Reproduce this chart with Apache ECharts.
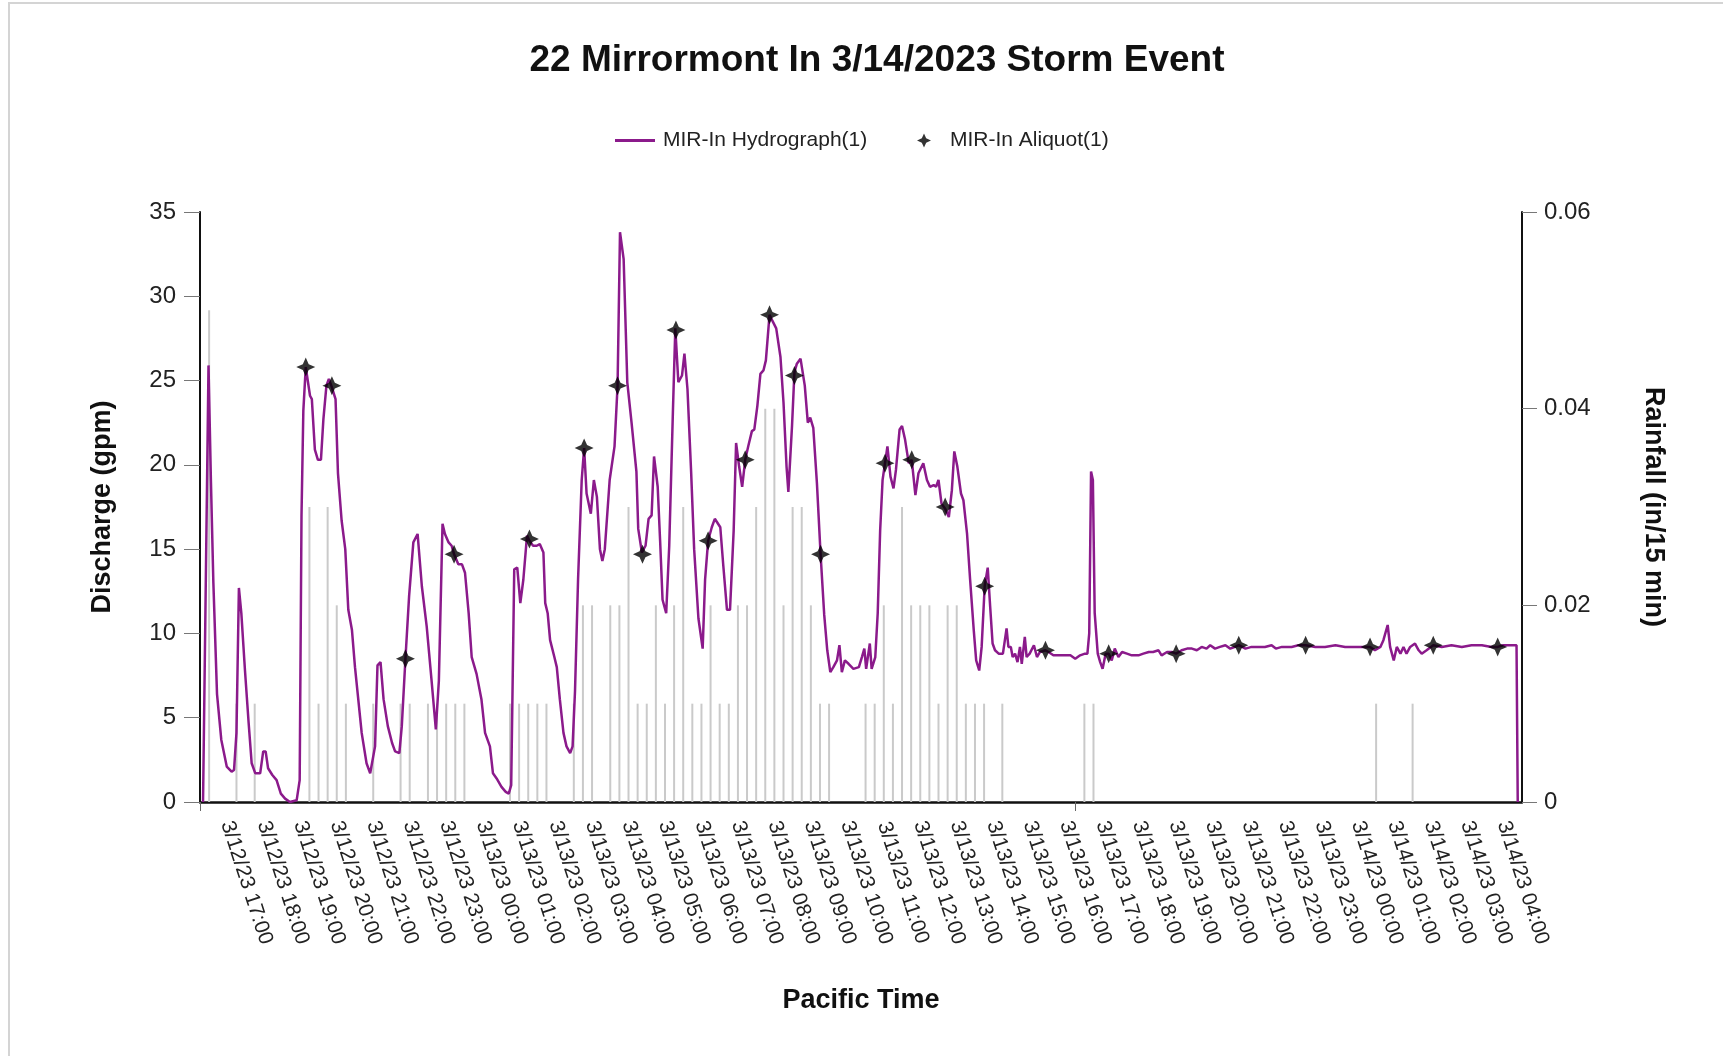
<!DOCTYPE html>
<html><head><meta charset="utf-8">
<script src="https://cdn.jsdelivr.net/npm/echarts@6/dist/echarts.min.js"></script>
<style>html,body{margin:0;padding:0;background:#fff}#c{width:1723px;height:1056px}</style>
</head><body><div id="c"></div>
<script>
// x values are minutes after 3/12/23 16:00 (Pacific Time)
const tickLabels = [
 '3/12/23 17:00','3/12/23 18:00','3/12/23 19:00','3/12/23 20:00','3/12/23 21:00','3/12/23 22:00','3/12/23 23:00',
 '3/13/23 00:00','3/13/23 01:00','3/13/23 02:00','3/13/23 03:00','3/13/23 04:00','3/13/23 05:00','3/13/23 06:00',
 '3/13/23 07:00','3/13/23 08:00','3/13/23 09:00','3/13/23 10:00','3/13/23 11:00','3/13/23 12:00','3/13/23 13:00',
 '3/13/23 14:00','3/13/23 15:00','3/13/23 16:00','3/13/23 17:00','3/13/23 18:00','3/13/23 19:00','3/13/23 20:00',
 '3/13/23 21:00','3/13/23 22:00','3/13/23 23:00','3/14/23 00:00','3/14/23 01:00','3/14/23 02:00','3/14/23 03:00',
 '3/14/23 04:00'];

const hydroMin = [5,14,18,22,28,35,44,52,56,60,64,68,74,80,85,91,99,104,108,112,119,126,133,140,148,159,164,167,170,174,181,184,189,194,199,203,208,212,217,223,227,233,239,244,250,255,266,274,280,283,288,292,297,302,309,316,321,328,332,338,344,351,358,365,373,381,388,393,399,403,409,414,418,425,431,436,442,447,455,463,469,477,482,488,496,503,508,512,517,522,527,532,538,542,548,554,559,565,568,572,576,583,587,592,598,603,609,613,617,622,628,632,636,643,648,653,658,662,666,674,682,687,691,697,703,710,718,721,727,733,738,743,747,753,757,761,767,772,778,782,787,793,797,802,808,813,820,827,831,836,842,847,856,861,867,872,878,882,887,892,897,902,908,912,917,922,927,931,937,941,948,955,960,965,968,974,978,982,988,995,1000,1004,1009,1015,1021,1027,1032,1037,1042,1048,1052,1056,1061,1067,1075,1084,1089,1093,1096,1102,1105,1111,1115,1119,1123,1127,1131,1136,1141,1145,1151,1155,1160,1166,1171,1177,1182,1190,1196,1201,1207,1211,1215,1220,1226,1232,1237,1241,1246,1252,1256,1262,1267,1273,1277,1282,1286,1291,1296,1300,1304,1308,1314,1321,1327,1330,1334,1337,1341,1345,1349,1352,1357,1360,1365,1372,1377,1382,1391,1396,1404,1412,1421,1432,1440,1448,1456,1460,1463,1466,1469,1472,1477,1481,1485,1490,1495,1500,1505,1511,1517,1525,1533,1544,1552,1561,1568,1577,1582,1591,1599,1606,1615,1624,1632,1640,1648,1656,1662,1670,1678,1687,1695,1703,1709,1720,1730,1741,1752,1763,1770,1780,1796,1807,1819,1835,1851,1868,1884,1900,1917,1925,1933,1942,1947,1954,1958,1964,1969,1975,1980,1985,1991,1999,2005,2010,2018,2029,2043,2059,2076,2092,2109,2125,2135,2144,2166,2168];
const hydroGpm = [0,25.9,19,13,6.4,3.7,2.1,1.8,1.9,4.1,12.7,11.2,7.8,4.7,2.3,1.7,1.7,3.0,3.0,2.0,1.6,1.3,0.5,0.2,0,0.1,1.3,17,23.2,25.8,24.1,23.9,20.9,20.3,20.3,22.7,24.7,25.1,24.6,23.9,19.5,16.7,15.0,11.4,10.2,8.0,4.1,2.3,1.7,1.6,3.3,8.1,8.3,6.1,4.5,3.5,3.0,2.9,4.5,8.5,12.2,15.4,15.9,12.8,10.4,7.2,4.3,7.2,16.5,15.9,15.4,15.2,14.7,14.1,14.1,13.6,11.2,8.6,7.6,6.1,4.1,3.3,1.7,1.4,0.9,0.6,0.5,1.0,13.8,13.9,11.8,13.2,15.8,15.5,15.2,15.2,15.3,14.8,11.8,11.2,9.6,8.6,8.0,6.1,4.1,3.3,2.9,3.3,6.6,13.2,19.1,21.0,18.3,17.1,19.1,18.1,15.0,14.3,15.0,19.1,21.1,24.7,33.8,32.2,24.9,22.5,19.6,16.2,14.8,15.2,16.8,17.0,20.5,18.7,15.5,12.0,11.2,15.2,23.1,28.1,24.9,25.3,26.6,24.5,19.6,15.0,10.9,9.1,13.2,15.5,16.3,16.8,16.3,14.0,11.4,11.4,16.1,21.3,19.9,18.7,20.3,21.1,22.0,22.1,23.5,25.4,25.6,26.2,28.9,28.6,28.1,26.4,23.7,19.9,18.4,22.3,25.5,26.0,26.3,24.7,22.5,22.8,22.2,18.9,14.7,11.1,9.0,7.7,8.0,8.4,9.3,7.7,8.4,8.2,7.9,8.0,8.6,9.1,7.9,9.4,7.9,8.6,11.2,16.1,19.1,20.1,21.1,19.3,18.6,19.7,22.1,22.3,21.5,20.1,20.3,18.2,19.5,20.1,19.1,18.7,18.8,18.7,19.1,17.7,17.4,16.9,18.5,20.8,19.9,18.3,17.9,15.9,13.2,10.2,8.4,7.8,9.2,12.8,13.9,11.6,9.4,9.0,8.8,8.8,10.3,9.2,9.2,8.6,8.8,8.3,9.2,8.2,9.8,8.6,8.8,9.3,8.6,8.9,9.0,8.9,8.7,8.7,8.7,8.7,8.5,8.7,8.8,8.8,10.0,19.6,19.1,11.2,8.8,8.3,7.9,8.8,8.8,8.4,9.1,8.6,8.9,8.8,8.7,8.7,8.8,8.9,8.9,9.0,8.7,8.9,8.9,8.8,9.0,9.1,9.1,9.0,9.2,9.1,9.3,9.1,9.2,9.3,9.1,9.2,9.3,9.1,9.2,9.2,9.2,9.3,9.1,9.2,9.2,9.3,9.3,9.2,9.2,9.3,9.2,9.2,9.2,9.2,9.0,9.2,9.6,10.5,9.2,8.4,9.2,8.8,9.2,8.8,9.2,9.4,9.0,8.8,9.0,9.3,9.2,9.3,9.2,9.3,9.3,9.2,9.2,9.3,9.3,0];

const aliquotMin = [174,217,338,418,542,632,687,728,783,836,897,937,978,1021,1127,1171,1226,1291,1391,1495,1606,1709,1819,1925,2029,2135];
const aliquotGpm = [25.8,24.7,8.5,14.7,15.6,21.0,24.7,14.7,28.0,15.5,20.3,28.9,25.3,14.7,20.1,20.3,17.5,12.8,9.0,8.8,8.8,9.3,9.3,9.2,9.3,9.2];

const rainMin = [15,60,90,180,195,210,225,240,285,330,345,375,390,405,420,435,510,525,540,555,570,615,630,645,675,690,705,720,735,750,765,780,795,810,825,840,855,870,885,900,915,930,945,960,975,990,1005,1020,1035,1095,1110,1125,1140,1155,1170,1185,1200,1215,1230,1245,1260,1275,1290,1320,1455,1470,1935,1995];
const rainIn = [0.05,0.01,0.01,0.03,0.01,0.03,0.02,0.01,0.01,0.01,0.01,0.01,0.01,0.01,0.01,0.01,0.01,0.01,0.01,0.01,0.01,0.01,0.02,0.02,
 0.02,0.02,0.03,0.01,0.01,0.02,0.01,0.02,0.03,0.01,0.01,0.02,0.01,0.01,0.02,0.02,0.03,0.04,0.04,0.02,0.03,0.03,0.02,0.01,0.01,
 0.01,0.01,0.02,0.01,0.03,0.02,0.02,0.02,0.01,0.02,0.02,0.01,0.01,0.01,0.01,0.01,0.01,0.01,0.01];

const FONT = '"Liberation Sans", Arial, sans-serif';
const STAR = 'path://M0,-10 L3.1,-3.1 L10,0 L3.1,3.1 L0,10 L-3.1,3.1 L-10,0 L-3.1,-3.1 Z';
const X_MAX = 2175;

const chart = echarts.init(document.getElementById('c'), null, {renderer: 'canvas'});
chart.setOption({
  animation: false,
  backgroundColor: '#ffffff',
  textStyle: {fontFamily: FONT},
  graphic: [{type: 'rect', silent: true, shape: {x: 9, y: 3, width: 1800, height: 1200},
    style: {fill: 'none', stroke: '#d4d4d4', lineWidth: 2}}],
  title: {text: '22 Mirrormont In 3/14/2023 Storm Event', left: 872, top: 37, textAlign: 'center',
    textStyle: {fontFamily: FONT, fontSize: 37, fontWeight: 'bold', color: '#111'}},
  legend: [
    {data: [{name: 'MIR-In Hydrograph(1)', icon: 'rect'}], left: 610, top: 125, itemWidth: 40, itemHeight: 3,
      textStyle: {fontFamily: FONT, fontSize: 21, color: '#222', padding: [0, 0, 0, 3]}},
    {data: [{name: 'MIR-In Aliquot(1)', icon: STAR}], left: 912, top: 125, itemWidth: 14, itemHeight: 14,
      itemGap: 0, textStyle: {fontFamily: FONT, fontSize: 21, color: '#222', padding: [0, 0, 0, 14]}}
  ],
  grid: {left: 200, right: 201, top: 212, bottom: 254, containLabel: false},
  xAxis: {
    type: 'value', min: 0, max: X_MAX,
    axisLine: {show: true, onZero: false, lineStyle: {color: '#111', width: 2.5}},
    axisTick: {show: true, customValues: [0, 1440], length: 9, lineStyle: {color: '#666', width: 1}},
    axisLabel: {customValues: tickLabels.map((_, i) => (i + 1) * 60),
      formatter: v => tickLabels[Math.round(v / 60) - 1] || '',
      rotate: -72, align: 'center', verticalAlign: 'bottom', margin: 84,
      fontFamily: FONT, fontSize: 21, color: '#222'},
    splitLine: {show: false},
    name: 'Pacific Time', nameLocation: 'middle', nameGap: 185,
    nameTextStyle: {fontFamily: FONT, fontSize: 27, fontWeight: 'bold', color: '#111'}
  },
  yAxis: [
    {type: 'value', min: 0, max: 35, interval: 5, position: 'left',
      axisLine: {show: true, lineStyle: {color: '#111', width: 2}},
      axisTick: {show: true, length: 16, lineStyle: {color: '#777', width: 1}},
      axisLabel: {fontFamily: FONT, fontSize: 24, color: '#222', margin: 24},
      splitLine: {show: false},
      name: 'Discharge (gpm)', nameLocation: 'middle', nameGap: 84,
      nameTextStyle: {fontFamily: FONT, fontSize: 27, fontWeight: 'bold', color: '#111'}},
    {type: 'value', min: 0, max: 0.06, interval: 0.02, position: 'right',
      axisLine: {show: true, lineStyle: {color: '#111', width: 2}},
      axisTick: {show: true, length: 15, lineStyle: {color: '#777', width: 1}},
      axisLabel: {fontFamily: FONT, fontSize: 24, color: '#222', margin: 22},
      splitLine: {show: false},
      name: 'Rainfall (in/15 min)', nameLocation: 'middle', nameGap: 118, nameRotate: -90,
      nameTextStyle: {fontFamily: FONT, fontSize: 27, fontWeight: 'bold', color: '#111'}}
  ],
  series: [
    {name: 'Rainfall', type: 'bar', yAxisIndex: 1, barWidth: 2, silent: true, z: 1,
      itemStyle: {color: '#cacaca'},
      data: rainMin.map((m, i) => [m, rainIn[i]])},
    {name: 'MIR-In Hydrograph(1)', type: 'line', yAxisIndex: 0, symbol: 'none', z: 3,
      lineStyle: {color: '#8B1A8B', width: 2.5}, itemStyle: {color: '#8B1A8B'},
      data: hydroMin.map((m, i) => [m, hydroGpm[i]])},
    {name: 'MIR-In Aliquot(1)', type: 'scatter', yAxisIndex: 0, symbol: STAR, symbolSize: 19,
      symbolKeepAspect: true, z: 5, itemStyle: {color: '#000'},
      data: aliquotMin.map((m, i) => [m, aliquotGpm[i]])}
  ]
});
</script>
</body></html>
